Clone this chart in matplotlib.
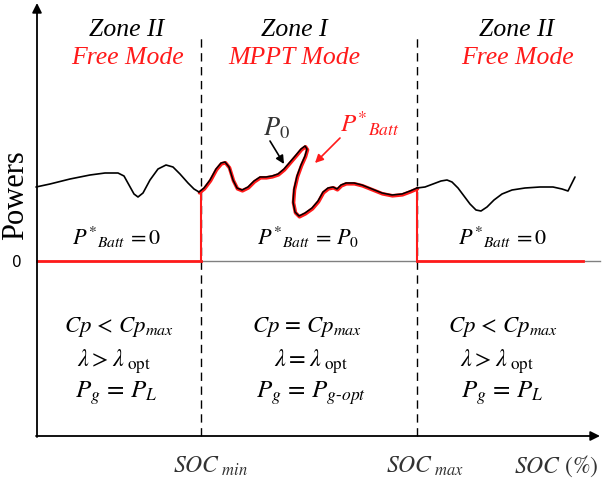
import matplotlib
matplotlib.use("Agg")
import matplotlib.pyplot as plt
import numpy as np

plt.rcParams['mathtext.fontset'] = 'stix'

# Curve samples (x: SOC axis units, y: power units; zero line at y=0)
free_left_px = [(36,188),(50,185),(70,180),(90,176),(105,174),(118,174),(124,177),(129,186),(134,195),(138,198),(143,194),(150,181),(158,170),(166,166),(173,168),(180,175),(188,184),(194,190),(199,193)]
mppt_px = [(199,193),(204,189),(210,181),(216,170),(221,164),(225,163),(229,168),(233,181),(237,189),(242,191),(248,188),(254,182),(260,178),(266,178),(272,177),(278,175),(284,170),(290,163),(296,156),(301,150),(305,147),(307,150),(305,157),(301,166),(297,177),(294,190),(293,203),(295,213),(299,217),(305,214),(312,209),(318,202),(323,193),(328,189),(333,188),(337,190),(341,186),(346,184),(354,184),(362,186),(372,190),(382,194),(392,196),(402,195),(410,192),(417,189)]
free_right_px = [(417,189),(425,188),(433,185),(441,182),(447,181),(452,183),(458,189),(464,197),(470,205),(476,211),(481,212),(487,208),(494,201),(502,195),(512,191),(525,189),(540,188),(553,188),(562,190),(568,192),(571,186),(575,178)]

X0, Y0 = 37, 262
def conv(pts):
    a = np.array(pts, float)
    return a[:, 0] - X0, Y0 - a[:, 1]

xl, yl = conv(free_left_px)
xm, ym = conv(mppt_px)
xr, yr = conv(free_right_px)

soc_min, soc_max = 201 - X0, 417 - X0
x_end = 583 - X0

fig = plt.figure(figsize=(6.03, 4.81), dpi=100)
ax = fig.add_axes([0, 0, 1, 1])
ax.set_xlim(-X0, 603 - X0)
ax.set_ylim(Y0 - 481, Y0)
ax.axis('off')

RED = '#ff1a1a'
serif = 'Liberation Serif'
kw = dict(solid_joinstyle='round', solid_capstyle='round')

# axes with arrows
ax.annotate('', xy=(0, Y0 - 4), xytext=(0, Y0 - 438),
            arrowprops=dict(arrowstyle='-|>', lw=1.3, color='black', mutation_scale=14, shrinkA=0, shrinkB=0))
ax.annotate('', xy=(600 - X0, Y0 - 437), xytext=(-1, Y0 - 437),
            arrowprops=dict(arrowstyle='-|>', lw=1.3, color='black', mutation_scale=14, shrinkA=0, shrinkB=0))
# zero line
ax.plot([0, 600 - X0], [0, 0], color='#808080', lw=1.0)
# dashed zone borders
for xv in (soc_min, soc_max):
    ax.plot([xv, xv], [Y0 - 437, Y0 - 38], color='black', lw=1.0, ls=(0, (6, 4)))

# battery reference (red)
ax.plot([0, soc_min], [0, 0], color=RED, lw=2.0)
ax.plot([soc_max, x_end], [0, 0], color=RED, lw=2.0)
ax.plot([soc_min, soc_min], [0, ym[0]], color=RED, lw=1.5)
ax.plot([soc_max, soc_max], [0, ym[-1]], color=RED, lw=1.5)
ax.plot(xm + 0.5, ym - 0.8, color=RED, lw=2.6, **kw)

# available power curve (black)
ax.plot(xl, yl, color='black', lw=1.2, **kw)
ax.plot(xm, ym, color='black', lw=1.1, **kw)
ax.plot(xr, yr, color='black', lw=1.2, **kw)

def px(x, y):
    return x - X0, Y0 - y

fs = 18.5
for cx, title, mode in [(127, 'Zone II', 'Free Mode'), (294, 'Zone I', 'MPPT Mode'), (517, 'Zone II', 'Free Mode')]:
    ax.text(*px(cx, 30), title, ha='center', va='center', fontsize=fs, family=serif, style='italic', color='black')
    ax.text(*px(cx, 58), mode, ha='center', va='center', fontsize=fs, family=serif, style='italic', color=RED)

ax.text(*px(276, 128), r'$P_0$', ha='center', va='center', fontsize=19, color='#333333')
ax.text(*px(370, 124), r'$P^{*}{}_{Batt}$', ha='center', va='center', fontsize=18, color=RED)
ax.annotate('', xy=px(284, 165), xytext=px(270, 142),
            arrowprops=dict(arrowstyle='-|>', lw=1.2, color='black', mutation_scale=12, shrinkA=0, shrinkB=0))
ax.annotate('', xy=px(315, 164), xytext=px(340, 139),
            arrowprops=dict(arrowstyle='-|>', lw=1.2, color=RED, mutation_scale=12, shrinkA=0, shrinkB=0))

ax.text(*px(117, 237), r'$P^{*}{}_{Batt}\,=0$', ha='center', va='center', fontsize=16)
ax.text(*px(308, 237), r'$P^{*}{}_{Batt}\,=\,P_0$', ha='center', va='center', fontsize=16)
ax.text(*px(503, 237), r'$P^{*}{}_{Batt}\,=0$', ha='center', va='center', fontsize=16)

rows = [(119, 114, 116, r'$Cp\,<\,Cp_{max}$', r'$\lambda > \lambda_{\ \mathrm{opt}}$', r'$P_g\,=\,P_L$'),
        (307, 311, 311, r'$Cp\,=\,Cp_{max}$', r'$\lambda = \lambda_{\ \mathrm{opt}}$', r'$P_g\,=\,P_{g\text{-}opt}$'),
        (503, 497, 502, r'$Cp\,<\,Cp_{max}$', r'$\lambda > \lambda_{\ \mathrm{opt}}$', r'$P_g\,=\,P_L$')]
for c1, c2, c3, l1, l2, l3 in rows:
    ax.text(*px(c1, 327), l1, ha='center', va='center', fontsize=16.5)
    ax.text(*px(c2, 362), l2, ha='center', va='center', fontsize=17.5)
    ax.text(*px(c3, 393), l3, ha='center', va='center', fontsize=18)

ax.text(*px(210, 466), r'$SOC_{\ \mathit{min}}$', ha='center', va='center', fontsize=17, color='#333333')
ax.text(*px(425, 466), r'$SOC_{\ \mathit{max}}$', ha='center', va='center', fontsize=17, color='#333333')
ax.text(*px(556, 466), r'$SOC\ \mathrm{(\%)}$', ha='center', va='center', fontsize=17, color='#333333')
ax.text(*px(17, 263), '0', ha='center', va='center', fontsize=11, family='DejaVu Sans')
ax.text(*px(16, 195), 'Powers', ha='center', va='center', fontsize=22, family=serif, rotation=90)

fig.savefig('out.png', dpi=100)
